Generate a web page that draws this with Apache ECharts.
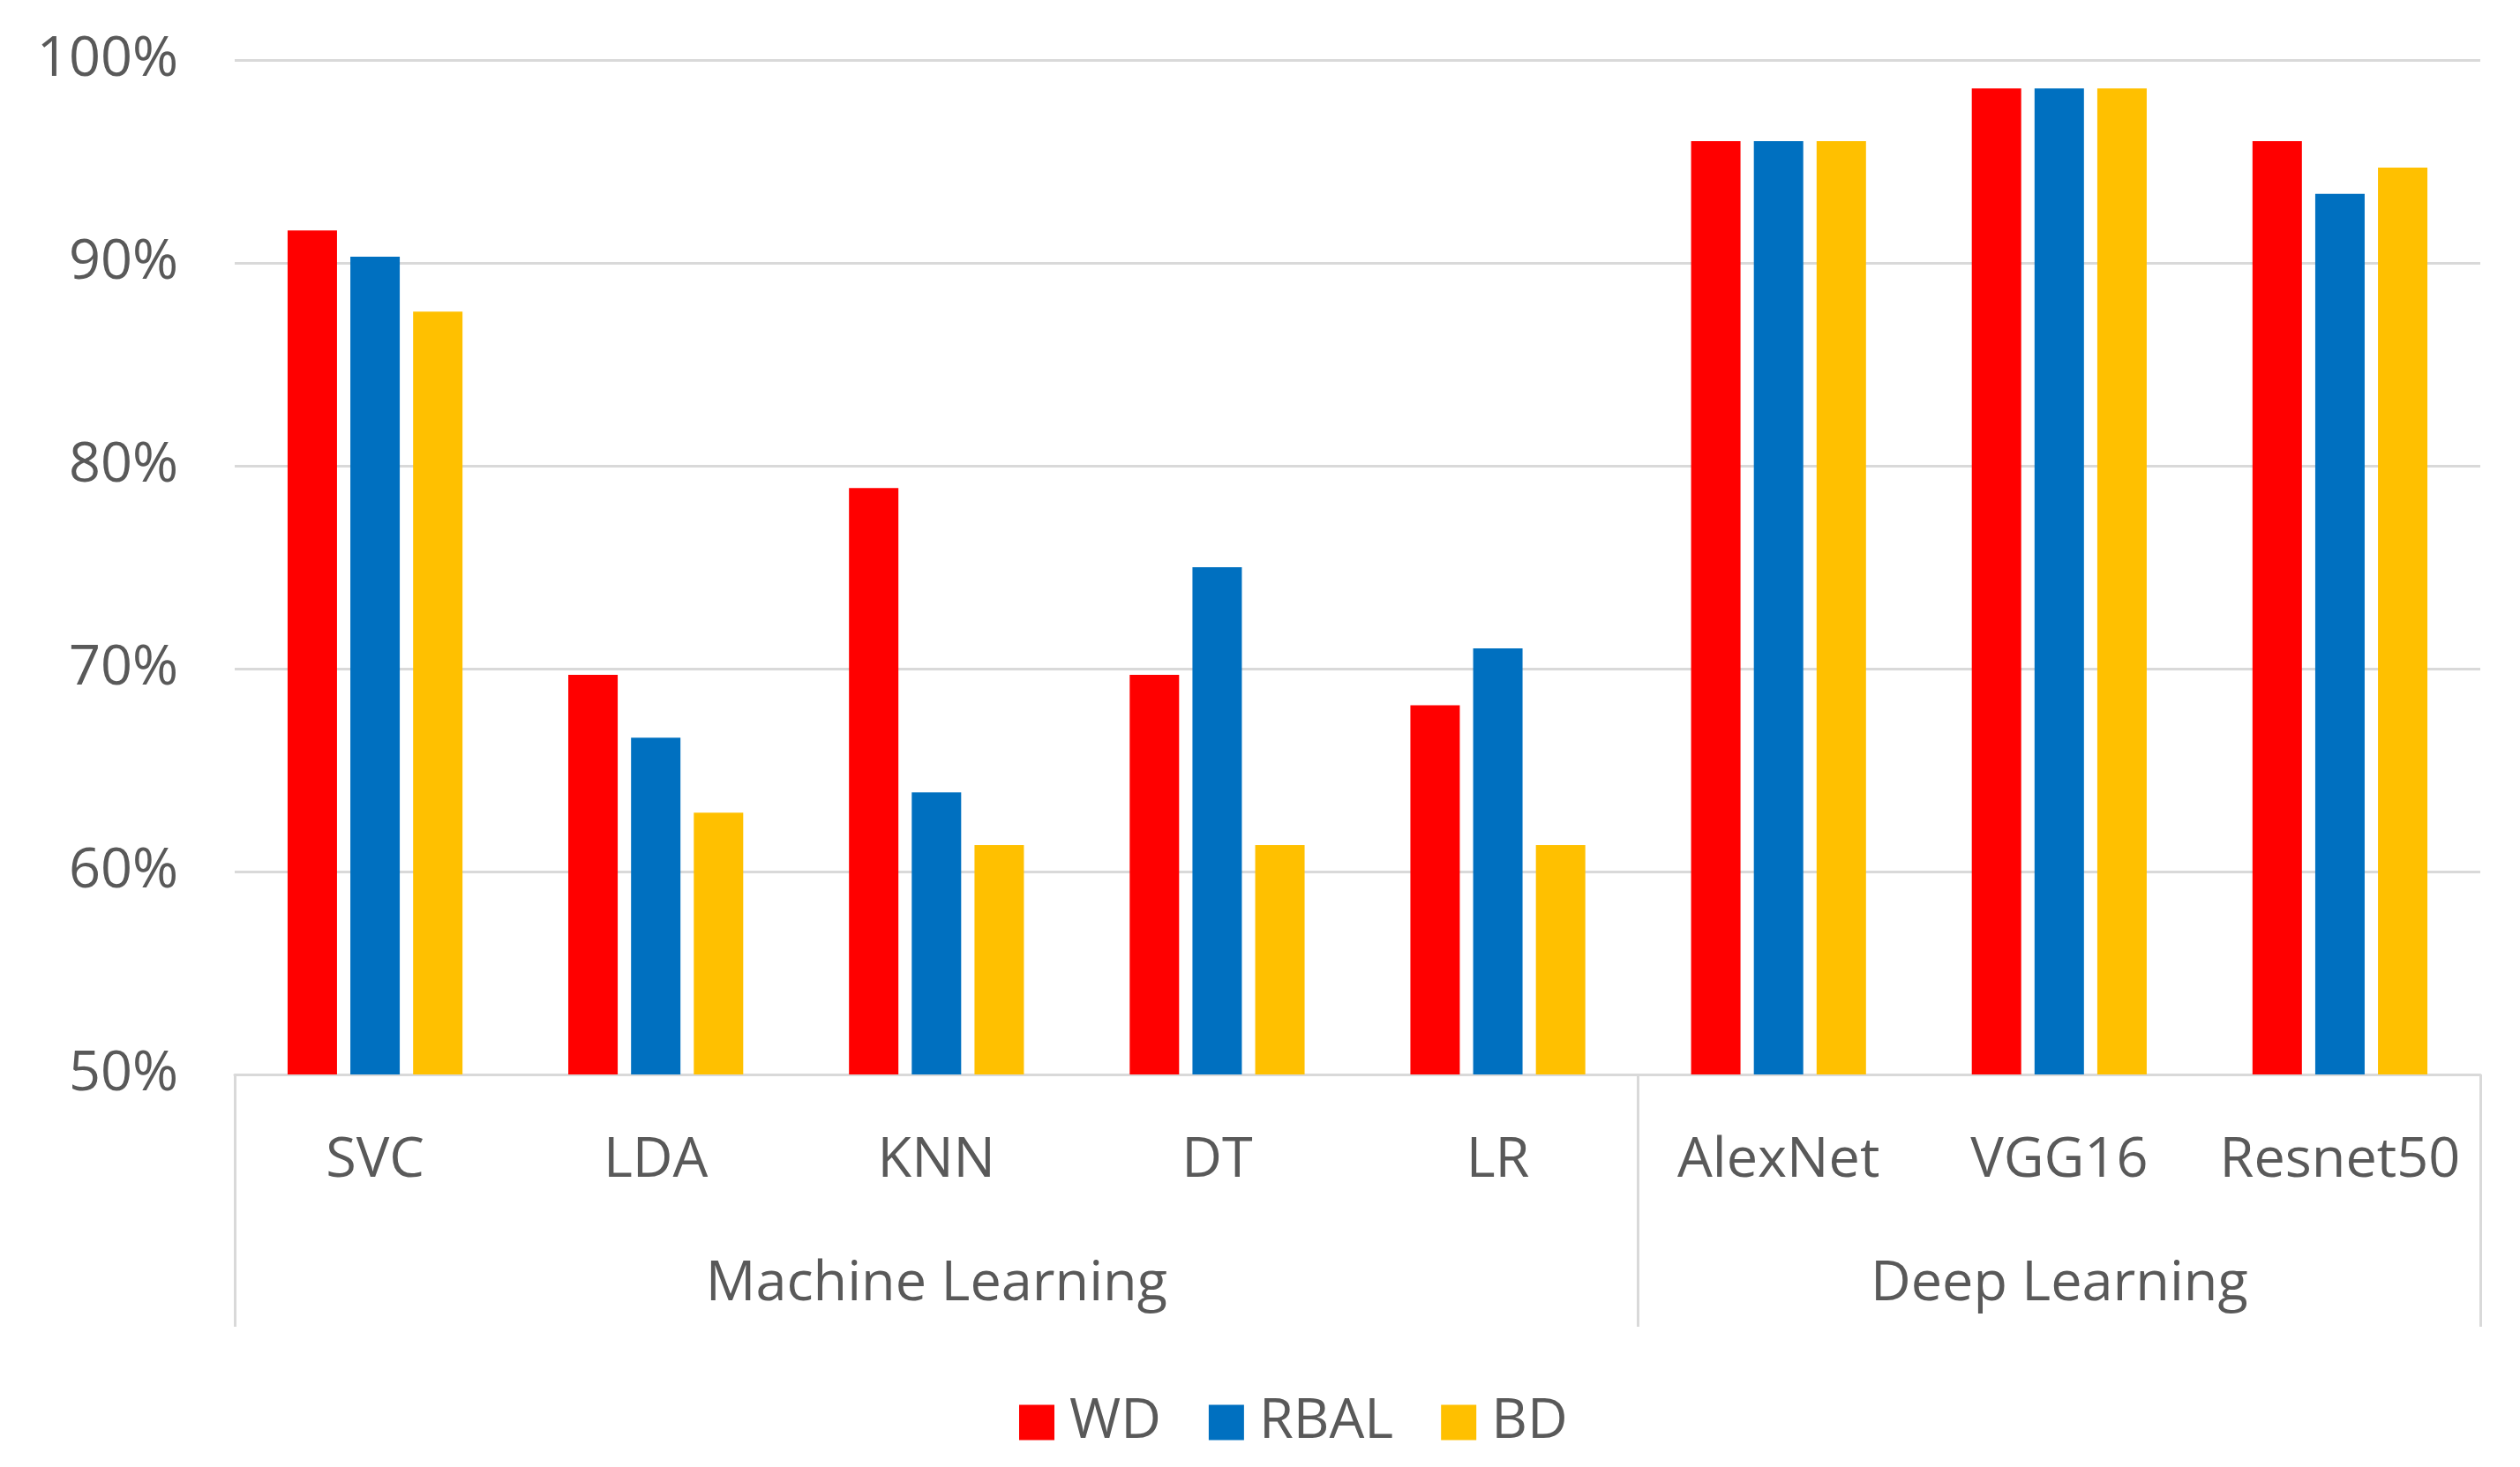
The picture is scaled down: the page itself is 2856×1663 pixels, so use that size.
<!DOCTYPE html>
<html>
<head>
<meta charset="utf-8">
<script src="https://cdn.jsdelivr.net/npm/echarts@6/dist/echarts.min.js"></script>
<style>
html,body{margin:0;padding:0;background:#fff;}
#chart{width:2856px;height:1663px;}
</style>
</head>
<body>
<div id="chart"></div>
<script>
const categories = ["SVC","LDA","KNN","DT","LR","AlexNet","VGG16","Resnet50"];
const groupLabels = ["","","Machine Learning","","","","Deep Learning",""];
const groupBoundaries = [0, 5];
const wd   = [91.6, 69.7, 78.9, 69.7, 68.2, 96.0, 98.6, 96.0];
const rbal = [90.3, 66.6, 63.9, 75.0, 71.0, 96.0, 98.6, 93.4];
const bd   = [87.6, 62.9, 61.3, 61.3, 61.3, 96.0, 98.6, 94.7];
const seriesNames = ["WD","RBAL","BD"];
const colors = ["#FF0000","#0070C0","#FFC000"];

const FONT = "Open Sans";
const TXT = "#595959";
const LINE = "#d9d9d9";
const FS = 63;

const chart = echarts.init(document.getElementById('chart'));
const data = [wd, rbal, bd];
chart.setOption({
  backgroundColor: '#ffffff',
  animation: false,
  textStyle: {fontFamily: FONT},
  grid: {left: 266, right: 45, top: 68, bottom: 445},
  legend: {
    bottom: 14, left: 1150,
    itemWidth: 40, itemHeight: 40, itemGap: 54,
    icon: 'rect',
    textStyle: {fontSize: FS, color: TXT, fontFamily: FONT, padding: [0,0,0,12]},
    data: seriesNames
  },
  xAxis: [
    {
      type: 'category', data: categories, position: 'bottom',
      axisLine: {show: true, lineStyle: {color: LINE, width: 3}},
      axisTick: {show: true, length: 286, lineStyle: {color: LINE, width: 3},
        interval: function (i) { return groupBoundaries.indexOf(i) >= 0; }},
      axisLabel: {fontSize: FS, color: TXT, margin: 67, interval: 0, fontFamily: FONT},
      splitLine: {show: false}
    },
    {
      type: 'category', data: groupLabels, position: 'bottom', offset: 0,
      axisLine: {show: false}, axisTick: {show: false}, splitLine: {show: false},
      axisLabel: {fontSize: FS, color: TXT, margin: 207, interval: 0, fontFamily: FONT}
    }
  ],
  yAxis: {
    type: 'value', min: 50, max: 100, interval: 10,
    axisLine: {show: false}, axisTick: {show: false},
    axisLabel: {formatter: '{value}%', fontSize: FS, color: TXT, margin: 64, fontFamily: FONT},
    splitLine: {lineStyle: {color: LINE, width: 3}}
  },
  series: seriesNames.map((n, k) => ({
    name: n, type: 'bar', xAxisIndex: 0, data: data[k],
    barWidth: 56, barGap: '27%',
    itemStyle: {color: colors[k]}
  }))
});
</script>
</body>
</html>
